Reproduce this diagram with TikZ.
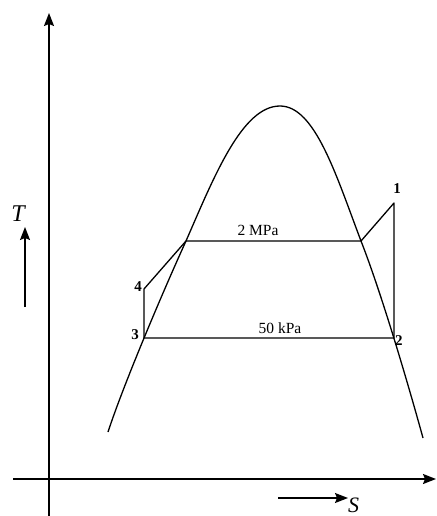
\documentclass[tikz,border=0pt]{standalone}
\usepackage{fontspec}
\setmainfont{Liberation Serif}
\usetikzlibrary{arrows.meta}

\begin{document}
\begin{tikzpicture}[x=1pt, y=-1pt, >={Stealth[length=13pt, width=10pt, inset=2pt]},
    font=\fontsize{15.5}{18}\selectfont,
    axisline/.style={line width=1.6pt, ->},
    cycleline/.style={line width=1.3pt, line join=round},
    domeline/.style={line width=1.3pt},
    ptlabel/.style={font=\fontsize{15}{18}\selectfont\bfseries, inner sep=0pt}]
    \useasboundingbox (0,0) rectangle (436,516);
    % axes
    \coordinate (ybot)  at (49,516);
    \coordinate (ytop)  at (49,13);
    \coordinate (xleft) at (13,479);
    \coordinate (xright) at (436,479);
    \draw[axisline] (ybot) -- (ytop);
    \draw[axisline] (xleft) -- (xright);
    % cycle states
    \coordinate (p1) at (394,203);
    \coordinate (p2) at (394,338);
    \coordinate (p3) at (144,338);
    \coordinate (p4) at (144,289);
    \coordinate (satl) at (186,241);
    \coordinate (satv) at (361,241);
    % saturation dome
    \draw[domeline] (108,432) .. controls (124,383) and (165,287) .. (satl)
        .. controls (214,177) and (242,106) .. (280,106)
        .. controls (315,106) and (336,175) .. (satv)
        .. controls (381,292) and (407,380) .. (423,438);
    \draw[cycleline] (p1) -- (p2) -- (p3) -- (p4) -- (satl) -- (satv) -- cycle;
    \node[ptlabel] (n1) at (397,189) {1};
    \node[ptlabel, anchor=west] (n2) at (395,341) {2};
    \node[ptlabel] (n3) at (135,335) {3};
    \node[ptlabel] (n4) at (138,287) {4};
    \node (hp) at (258,230) {2 MPa};
    \node (lp) at (280,328) {50 kPa};
    % T and S labels
    \node[font=\fontsize{24}{28}\selectfont\itshape] (tlab) at (18,214) {T};
    \coordinate (tlow) at (25,307);
    \coordinate (thigh) at (25,227);
    \draw[line width=1.3pt, ->] (tlow) -- (thigh);
    \node[font=\fontsize{22}{26}\selectfont\itshape, anchor=west, inner sep=0pt] (slab) at (348,505) {S};
    \coordinate (sleft) at (278,498);
    \draw[line width=1.3pt, ->] (sleft) -- (sleft -| slab.west);
\end{tikzpicture}
\end{document}
